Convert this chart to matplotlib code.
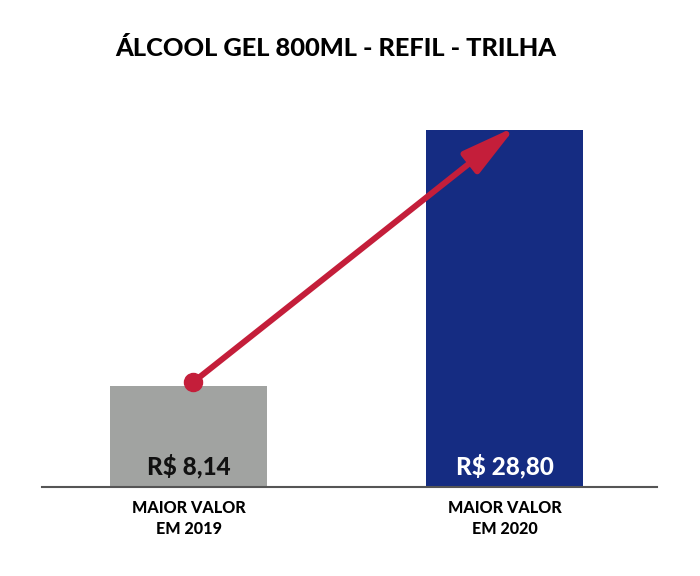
import matplotlib.pyplot as plt

categories = ["MAIOR VALOR\nEM 2019", "MAIOR VALOR\nEM 2020"]
values = [8.14, 28.80]
value_labels = ["R$ 8,14", "R$ 28,80"]
bar_colors = ["#A1A3A1", "#152C82"]
label_colors = ["#111111", "white"]

plt.rcParams['font.family'] = ['Lato', 'DejaVu Sans']

fig = plt.figure(figsize=(7, 5.76), dpi=100)
ax = fig.add_axes([0.06, 0.1545, 0.8786, 0.6719])

x = range(len(values))
ax.bar(x, values, width=0.497, color=bar_colors, zorder=2)

ax.set_xlim(-0.4636, 1.4826)
ax.set_ylim(0, 31.22)

for i, (v, lab) in enumerate(zip(values, value_labels)):
    ax.text(i, 1.7, lab, ha='center', va='center', fontsize=17.5,
            fontweight='black', color=label_colors[i], zorder=3)

# trend arrow from the 2019 bar top to the 2020 bar top
red = "#C41E3A"
ax.annotate("", xy=(1.037, values[1] + 0.3), xytext=(0.014, values[0] + 0.3),
            arrowprops=dict(arrowstyle='-|>,head_length=3.3,head_width=0.8',
                            mutation_scale=10, lw=4.3, color=red,
                            shrinkA=0, shrinkB=0),
            zorder=4)
ax.plot([0.014], [values[0] + 0.3], 'o', ms=13, color=red, zorder=5)

for s in ['top', 'right', 'left']:
    ax.spines[s].set_visible(False)
ax.spines['bottom'].set_color('#555555')
ax.spines['bottom'].set_linewidth(1.5)
ax.set_yticks([])
ax.set_xticks(list(x))
ax.set_xticklabels(categories, fontsize=11.6, fontweight='black', linespacing=1.4)
ax.tick_params(axis='x', length=0, pad=9)

fig.text(0.479, 0.916, "ÁLCOOL GEL 800ML - REFIL - TRILHA", ha='center', va='center',
         fontsize=18.3, fontweight='black', color='black')

fig.savefig("out.png", dpi=100, facecolor='white')
